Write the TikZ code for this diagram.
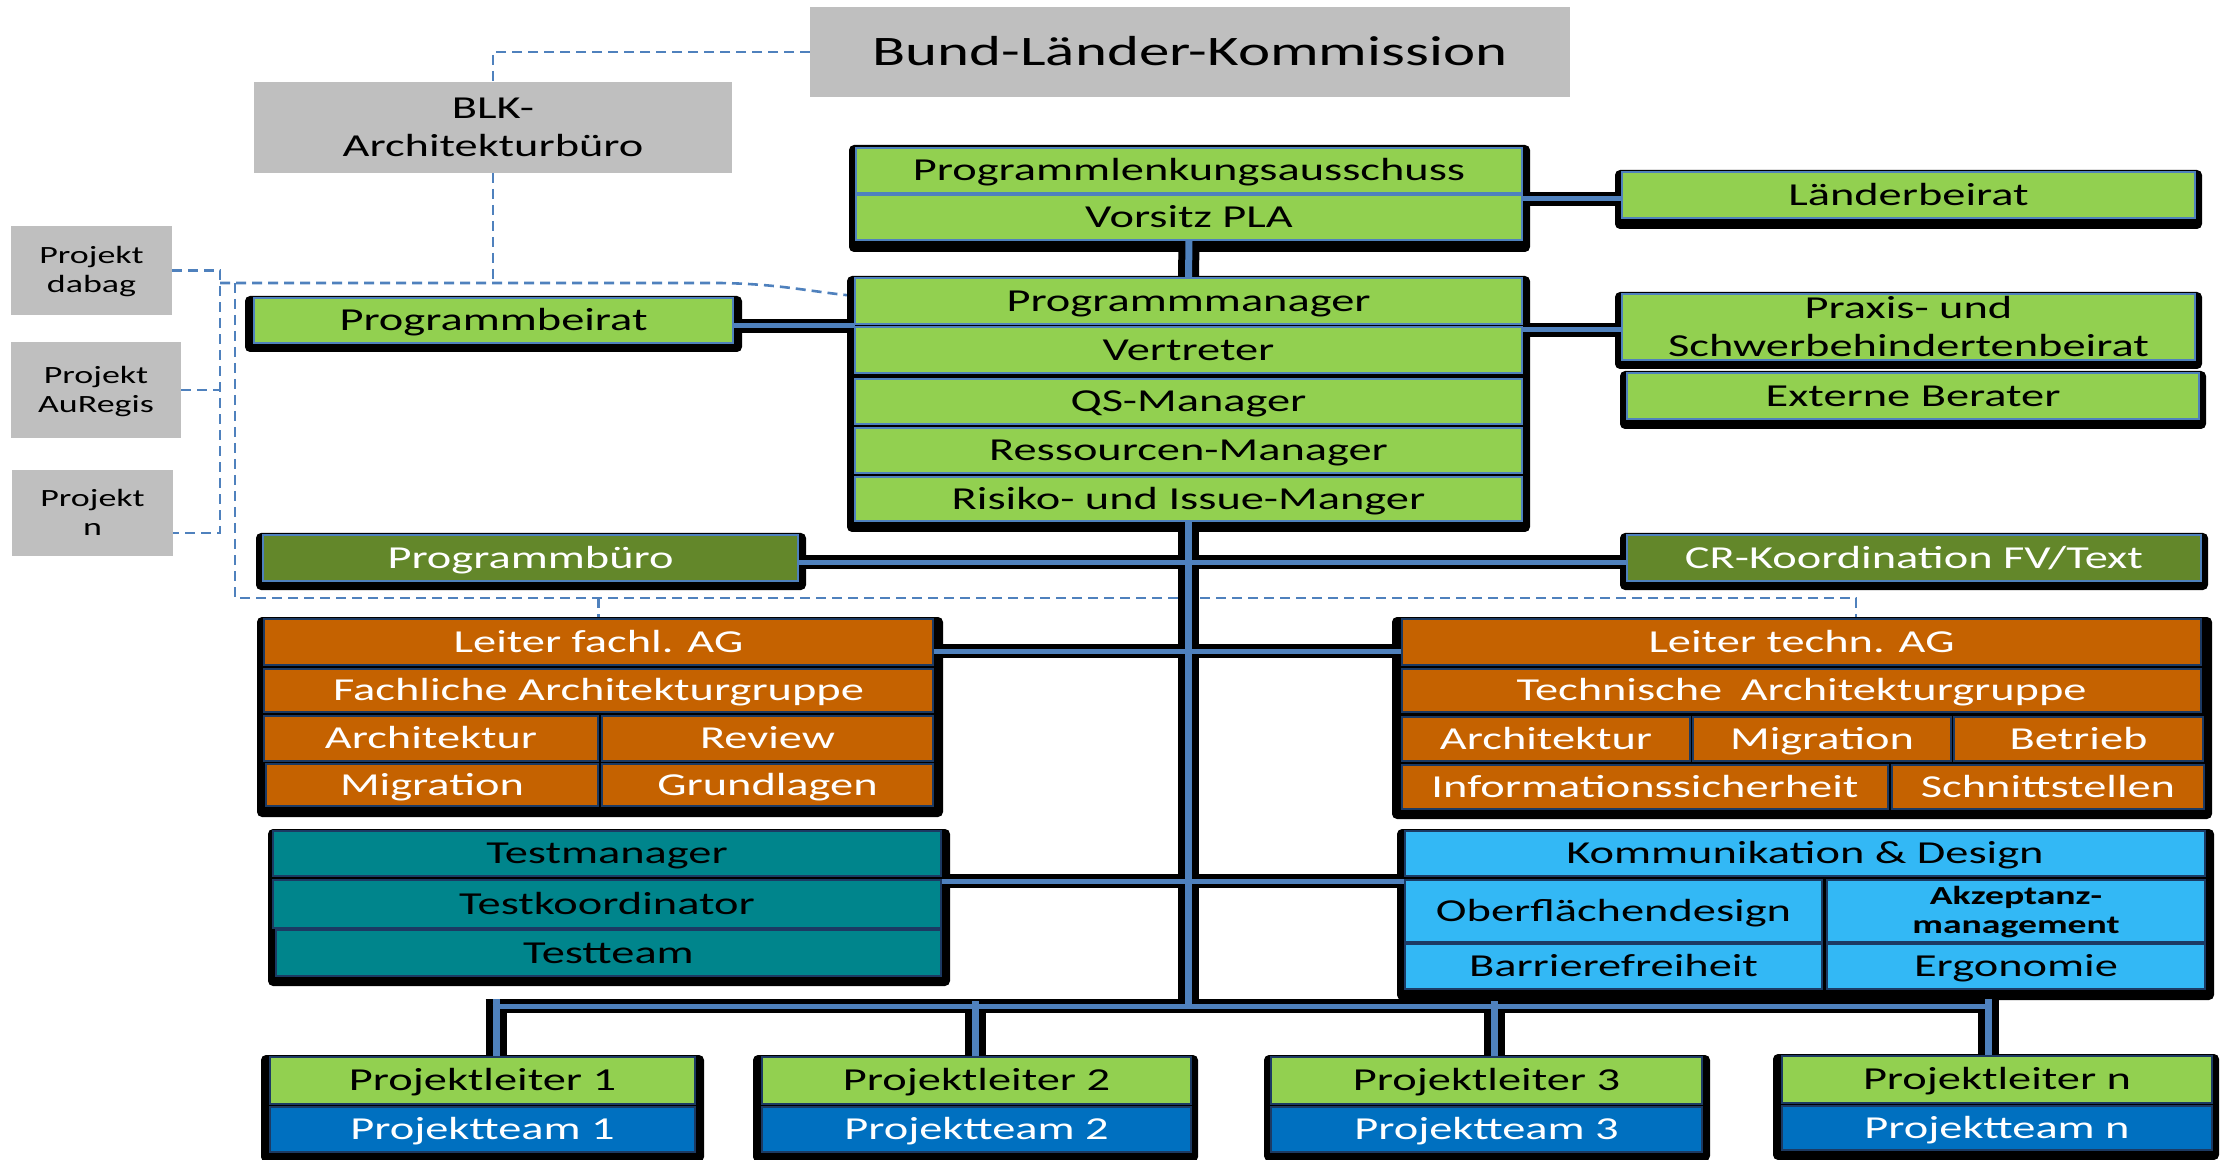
\documentclass[tikz,border=0pt]{standalone}
\usepackage{fontspec}
\setmainfont{Carlito}[FakeStretch=1.45]
\usetikzlibrary{calc}
\definecolor{cgray}{HTML}{BFBFBF}
\definecolor{cgreen}{HTML}{92D050}
\definecolor{cdgreen}{HTML}{63872A}
\definecolor{corange}{HTML}{C56200}
\definecolor{cteal}{HTML}{00858C}
\definecolor{csky}{HTML}{33B8F5}
\definecolor{cteam}{HTML}{0070C0}
\definecolor{lblue}{HTML}{4F81BD}
\definecolor{navy}{HTML}{1C3A63}
\definecolor{dashblue}{HTML}{4F81BD}
\pgfdeclarelayer{bgl}\pgfdeclarelayer{dsh}\pgfdeclarelayer{shd}\pgfdeclarelayer{cnb}\pgfdeclarelayer{cnu}
\pgfsetlayers{bgl,dsh,shd,cnb,cnu,main}
\newcommand\fbody{\fontsize{16}{19}\selectfont}
\newcommand\ftitle{\fontsize{21}{25}\selectfont}
\newcommand\fproj{\fontsize{12.4}{14.5}\selectfont}
\newcommand\fakz{\fontsize{13}{14.5}\selectfont\bfseries}
\newcommand\mkcell[7][]{%
  \pgfmathsetmacro\mkw{(#5-#3)/2}%
  \pgfmathsetmacro\mkh{(#6-#4)/2}%
  \node[#1, minimum width=\mkw pt, minimum height=\mkh pt] (#2) at ({(#3+#5)/2},{(#4+#6)/2}) {#7};%
}
\newcommand\grpshadow[4]{\fill[black, rounded corners=2.5pt] (#1,#2) rectangle (#3,#4);}
\newcommand\hconn[3]{%
  \begin{pgfonlayer}{cnb}\draw[hblk] (#1 |- #3) -- (#2 |- #3);\end{pgfonlayer}%
  \begin{pgfonlayer}{cnu}\draw[hblu] (#1 |- #3) -- (#2 |- #3);\end{pgfonlayer}}
\newcommand\vconn[2]{%
  \begin{pgfonlayer}{cnb}\draw[vblk] (#1) -- (#2);\end{pgfonlayer}%
  \begin{pgfonlayer}{cnu}\draw[vblu] (#1) -- (#2);\end{pgfonlayer}}
\tikzset{
  cellbase/.style={draw, line width=1.1pt, inner sep=0pt, outer sep=0pt, font=\fbody, text height=10.1pt, text depth=0pt},
  lgreen/.style={cellbase, fill=cgreen, draw=lblue},
  lgreend/.style={cellbase, fill=cgreen, draw=navy},
  dgreen/.style={cellbase, fill=cdgreen, draw=lblue, text=white},
  orng/.style={cellbase, fill=corange, draw=navy, text=white},
  tealc/.style={cellbase, fill=cteal, draw=navy},
  skyc/.style={cellbase, fill=csky, draw=navy},
  teamc/.style={cellbase, fill=cteam, draw=navy, text=white},
  greybox/.style={fill=cgray, draw=none, inner sep=0pt, outer sep=0pt, font=\fbody, text height=10.1pt, text depth=0pt},
  twoline/.style={align=center, text height=29.1pt, text depth=0pt},
  projline/.style={align=center, font=\fproj, text height=22.3pt, text depth=0pt},
  hblk/.style={line width=7pt, black},
  hblu/.style={line width=2.5pt, lblue, yshift=2.3pt},
  vblk/.style={line width=10.5pt, black},
  vblu/.style={line width=3.5pt, lblue},
  dashln/.style={draw=dashblue, line width=1.3pt, dash pattern=on 5pt off 3pt},
}
\begin{document}
\begin{tikzpicture}[x=0.5pt, y=-0.5pt]
\useasboundingbox (0,0) rectangle (2228,1160);
\begin{pgfonlayer}{bgl}\fill[white] (0,0) rectangle (2228,1160);\end{pgfonlayer}

% grey boxes
\mkcell[greybox, font=\ftitle, text height=13.2pt]{title}{810}{7}{1570}{97}{Bund-Länder-Kommission}
\mkcell[greybox, twoline]{blk}{254}{82}{732}{173}{BLK-\\Architekturbüro}
\mkcell[greybox, projline]{pjdabag}{11}{226}{172}{315}{Projekt\\dabag}
\mkcell[greybox, projline]{pjaureg}{11}{342}{181}{438}{Projekt\\AuRegis}
\mkcell[greybox, projline]{pjn}{12}{470}{173}{556}{Projekt\\n}

% shadows
\begin{pgfonlayer}{shd}
\grpshadow{849}{145}{1530}{252}
\grpshadow{847}{276}{1530}{532}
\grpshadow{245}{296}{742}{352}
\grpshadow{1615}{170}{2202}{229}
\grpshadow{1615}{292}{2202}{369}
\grpshadow{1620}{371}{2206}{429}
\grpshadow{256}{533}{806}{590}
\grpshadow{1620}{533}{2208}{590}
\grpshadow{257}{617}{943}{817}
\grpshadow{1392}{617}{2212}{819}
\grpshadow{268}{829}{950}{986}
\grpshadow{1397}{829}{2214}{1000}
\grpshadow{261}{1055}{704}{1162}
\grpshadow{753}{1055}{1198}{1162}
\grpshadow{1264}{1055}{1710}{1161}
\grpshadow{1773}{1054}{2219}{1160}
\end{pgfonlayer}

% top green groups
\mkcell[lgreen]{pla}{856}{148}{1522}{193}{Programmlenkungsausschuss}
\mkcell[lgreen]{vorsitz}{856}{195}{1522}{240}{Vorsitz PLA}
\mkcell[lgreen]{laender}{1622}{172}{2195}{218}{Länderbeirat}
\mkcell[lgreen]{pbeirat}{254}{298}{733}{343}{Programmbeirat}
\mkcell[lgreen]{pm}{855}{278}{1522}{324}{Programmmanager}
\mkcell[lgreen]{vertreter}{855}{327}{1522}{373}{Vertreter}
\mkcell[lgreen]{qs}{855}{379}{1522}{424}{QS-Manager}
\mkcell[lgreen]{ress}{855}{428}{1522}{473}{Ressourcen-Manager}
\mkcell[lgreen]{risiko}{855}{477}{1522}{521}{Risiko- und Issue-Manger}
\mkcell[lgreen, twoline]{praxis}{1622}{294}{2195}{360}{Praxis- und\\Schwerbehindertenbeirat}
\mkcell[lgreen]{extern}{1627}{373}{2199}{419}{Externe Berater}
\mkcell[dgreen]{pbuero}{263}{535}{798}{581}{Programmbüro}
\mkcell[dgreen]{cr}{1627}{535}{2201}{581}{CR-Koordination FV/Text}

% fachliche AG
\mkcell[orng]{lfa}{264}{619}{933}{665}{Leiter fachl. AG}
\mkcell[orng]{fag}{264}{669}{933}{712}{Fachliche Architekturgruppe}
\mkcell[orng]{faarch}{264}{716}{598}{761}{Architektur}
\mkcell[orng]{farev}{602}{716}{933}{761}{Review}
\mkcell[orng]{famig}{266}{764}{598}{806}{Migration}
\mkcell[orng]{fagrund}{602}{764}{933}{806}{Grundlagen}

% technische AG
\mkcell[orng]{lta}{1402}{619}{2201}{665}{Leiter techn. AG}
\mkcell[orng]{tag}{1402}{669}{2201}{712}{Technische\hspace{0.25em} Architekturgruppe}
\mkcell[orng]{taarch}{1402}{717}{1690}{761}{Architektur}
\mkcell[orng]{tamig}{1693}{717}{1951}{761}{Migration}
\mkcell[orng]{tabetr}{1954}{717}{2203}{761}{Betrieb}
\mkcell[orng]{tainfo}{1402}{765}{1888}{809}{Informationssicherheit}
\mkcell[orng]{taschn}{1892}{765}{2204}{809}{Schnittstellen}

% test
\mkcell[tealc]{tm}{273}{831}{941}{876}{Testmanager}
\mkcell[tealc]{tk}{273}{880}{941}{928}{Testkoordinator}
\mkcell[tealc]{tt}{276}{930}{941}{976}{Testteam}

% Kommunikation & Design
\mkcell[skyc]{kd}{1405}{831}{2205}{876}{Kommunikation \& Design}
\mkcell[skyc]{ob}{1405}{880}{1822}{942}{Oberflächendesign}
\mkcell[skyc, align=center, font=\fakz, text height=22.7pt, text depth=0pt]{akz}{1827}{880}{2205}{942}{Akzeptanz-\\management}
\mkcell[skyc]{bf}{1405}{944}{1822}{989}{Barrierefreiheit}
\mkcell[skyc]{ergo}{1827}{944}{2205}{989}{Ergonomie}

% Projekte
\mkcell[lgreend]{pl1}{270}{1057}{695}{1104}{Projektleiter 1}
\mkcell[teamc]{pt1}{270}{1107}{695}{1152}{Projektteam 1}
\mkcell[lgreend]{pl2}{762}{1057}{1191}{1104}{Projektleiter 2}
\mkcell[teamc]{pt2}{762}{1107}{1191}{1152}{Projektteam 2}
\mkcell[lgreend]{pl3}{1271}{1057}{1702}{1104}{Projektleiter 3}
\mkcell[teamc]{pt3}{1271}{1107}{1702}{1152}{Projektteam 3}
\mkcell[lgreend]{pln}{1782}{1056}{2212}{1103}{Projektleiter n}
\mkcell[teamc]{ptn}{1782}{1106}{2212}{1150}{Projektteam n}

% connector levels
\coordinate (yLB) at (0,199);
\coordinate (yPBL) at (0,326);
\coordinate (yPBR) at (0,330);
\coordinate (yBU) at (0,562);
\coordinate (yAG) at (0,651);
\coordinate (yTS) at (0,881);
\coordinate (busY) at (0,1006);
\coordinate (legA) at (496,1006);
\coordinate (legB) at (975,1006);
\coordinate (legC) at (1494,1006);
\coordinate (legD) at (1988,1006);

\hconn{vorsitz.east}{laender.west}{yLB}
\hconn{pbeirat.east}{pm.west}{yPBL}
\hconn{pm.east}{praxis.west}{yPBR}
\hconn{pbuero.east}{cr.west}{yBU}
\hconn{lfa.east}{lta.west}{yAG}
\hconn{tm.east}{kd.west}{yTS}
\vconn{vorsitz.south}{pm.north}
\vconn{risiko.south}{risiko.south |- busY}

\begin{pgfonlayer}{cnb}
\draw[hblk] ([xshift=-5.25pt]legA) -- ([xshift=5.25pt]legD);
\draw[vblk] ([yshift=3.5pt]legA) -- (pl1.north -| legA);
\draw[vblk] (legB) -- (pl2.north -| legB);
\draw[vblk] (legC) -- (pl3.north -| legC);
\draw[vblk] ([yshift=3.5pt]legD) -- (pln.north -| legD);
\end{pgfonlayer}
\begin{pgfonlayer}{cnu}
\draw[hblu] ([xshift=-1.75pt]legA) -- ([xshift=1.75pt]legD);
\draw[vblu] ([yshift=3.5pt]legA) -- (pl1.north -| legA);
\draw[vblu] ([yshift=2.5pt]legB) -- (pl2.north -| legB);
\draw[vblu] ([yshift=2.5pt]legC) -- (pl3.north -| legC);
\draw[vblu] ([yshift=3.5pt]legD) -- (pln.north -| legD);
\end{pgfonlayer}

% dashed links
\coordinate (dY1) at (0,283);
\coordinate (dY2) at (0,598);
\coordinate (dX1) at (220,0);
\coordinate (dX2) at (235,0);
\coordinate (dX3) at (1856,0);
\coordinate (pjnE) at ([yshift=-10pt]pjn.east);
\coordinate (pmE) at ([yshift=2.5pt]pm.west);
\begin{pgfonlayer}{dsh}
\draw[dashln] (title.west) -| (blk.north);
\draw[dashln] (blk.south) -- (blk.south |- dY1);
\draw[dashln] (dX1 |- dY1) -- (720,283) .. controls (780,284) and (805,291) .. (pmE);
\draw[dashln] (pjdabag.east) -| (pjnE -| dX1) -- (pjnE);
\draw[dashln] (pjaureg.east) -- (pjaureg.east -| dX1);
\draw[dashln] (dX2 |- dY1) -- (dX2 |- dY2) -- (dX3 |- dY2) -- (lta.north -| dX3);
\draw[dashln] (lfa.north |- dY2) -- (lfa.north);
\end{pgfonlayer}
\end{tikzpicture}
\end{document}
